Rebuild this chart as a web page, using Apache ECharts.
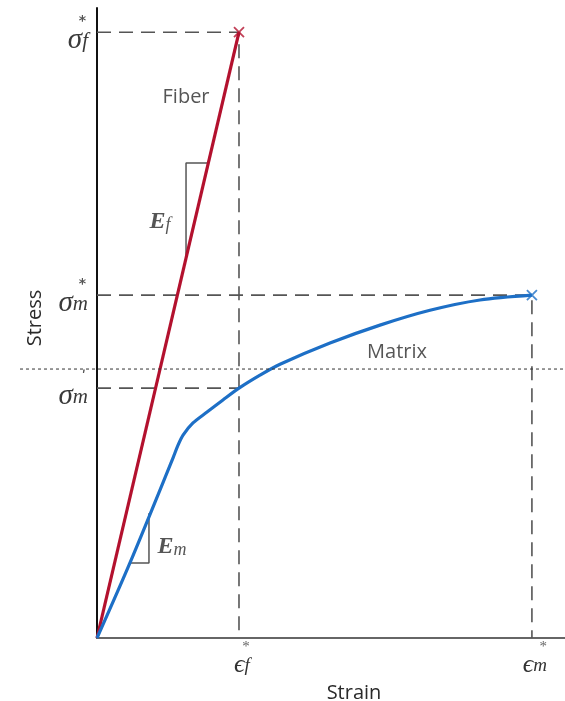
<!DOCTYPE html>
<html><head><meta charset="utf-8">
<script src="https://cdn.jsdelivr.net/npm/echarts@6/dist/echarts.min.js"></script>
<style>html,body{margin:0;padding:0;background:#fff}#c{width:565px;height:701px}</style>
</head><body><div id="c"></div>
<script>
// ---- data (strain in units of eps_f*, stress in units of sigma_f*) ----
const fiberStrain = [0, 1.0];
const fiberStress = [0, 1.0];
const matrixStrain = [0, 0.232, 0.535, 0.570, 0.606, 0.676, 0.775, 0.887, 1.0, 1.148, 1.289, 1.641, 1.993, 2.345, 2.697, 3.063];
const matrixStress = [0, 0.124, 0.297, 0.318, 0.335, 0.355, 0.373, 0.393, 0.4125, 0.434, 0.452, 0.487, 0.5165, 0.541, 0.558, 0.566];
const strainTickValues = [1.0, 3.063];
const strainTickLabels = [['ϵ', 'f', '*'], ['ϵ', 'm', '*']];
const stressTickValues = [1.0, 0.566, 0.4125];
const stressTickLabels = [['σ', 'f', '*'], ['σ', 'm', '*'], ['σ', 'm', 'ʹ']];
const dottedStress = 0.444;
const xMax = 3.296, yMax = 1.04;
// slope triangles
const efTriangle = [[0.627, 0.624], [0.627, 0.784], [0.782, 0.784]];
const emTriangle = [[0.232, 0.124], [0.366, 0.124], [0.366, 0.206]];
// annotation labels
const annotations = [
  { name: 'Fiber', at: [0.627, 0.893], kind: 'word' },
  { name: 'Matrix', at: [2.113, 0.472], kind: 'word' },
  { name: 'Ef', at: [0.444, 0.689], kind: 'mod', sub: 'f' },
  { name: 'Em', at: [0.528, 0.153], kind: 'mod', sub: 'm' }
];

const zip = (a, b) => a.map((v, i) => [v, b[i]]);
const serif = 'Liberation Serif';
const guideStyle = { color: '#555', width: 1.6, type: [14, 8] };
const red = '#b3112e', blue = '#1d6fc6';
const lastX = matrixStrain[matrixStrain.length - 1], lastY = matrixStress[matrixStress.length - 1];

const chart = echarts.init(document.getElementById('c'));
const option = {
  animation: false,
  grid: { left: 97, right: 0, top: 8, bottom: 63, containLabel: false, outerBoundsMode: 'none' },
  xAxis: {
    type: 'value', min: 0, max: xMax,
    name: 'Strain', nameLocation: 'middle', nameGap: 39,
    nameTextStyle: { fontFamily: 'Open Sans', fontSize: 20, color: '#2a2a2a', padding: [0, 0, 0, 46] },
    axisLine: { show: true, lineStyle: { color: '#666', width: 2 } },
    axisTick: { show: false }, splitLine: { show: false },
    axisLabel: {
      customValues: strainTickValues, margin: 5,
      formatter: v => {
        const i = strainTickValues.indexOf(v);
        if (i < 0) return '';
        const t = strainTickLabels[i];
        return '{st|' + t[2] + '}\n{s|' + t[0] + '}{sub|' + t[1] + '}';
      },
      rich: {
        st: { fontFamily: serif, fontSize: 15, color: '#666', lineHeight: 9, align: 'right' },
        s: { fontFamily: serif, fontStyle: 'italic', fontSize: 26, color: '#333', lineHeight: 20, verticalAlign: 'top', padding: [0, 0, 0, 6] },
        sub: { fontFamily: serif, fontStyle: 'italic', fontSize: 19, color: '#333', lineHeight: 18, padding: [8, 0, 0, 0] }
      }
    }
  },
  yAxis: {
    type: 'value', min: 0, max: yMax,
    name: 'Stress', nameLocation: 'middle', nameGap: 52,
    nameTextStyle: { fontFamily: 'Open Sans', fontSize: 20, color: '#2a2a2a', padding: [0, 0, 0, 10] },
    axisLine: { show: true, lineStyle: { color: '#111', width: 2 } },
    axisTick: { show: false }, splitLine: { show: false },
    axisLabel: {
      customValues: stressTickValues, margin: 9,
      formatter: v => {
        const i = stressTickValues.indexOf(v);
        if (i < 0) return '';
        const t = stressTickLabels[i];
        return '{st|' + t[2] + '}\n{s|' + t[0] + '}{sub|' + t[1] + '}';
      },
      rich: {
        st: { fontFamily: 'DejaVu Sans', fontSize: 14, fontWeight: 'bold', color: '#555', lineHeight: 9, align: 'right', padding: [0, 2, 0, 0] },
        s: { fontFamily: serif, fontStyle: 'italic', fontSize: 29, color: '#3a3a3a', lineHeight: 22, verticalAlign: 'top' },
        sub: { fontFamily: serif, fontStyle: 'italic', fontSize: 21, color: '#3a3a3a', lineHeight: 18, padding: [10, 0, 0, 0] }
      }
    }
  },
  series: [
    { type: 'line', data: [[0, fiberStress[1]], [fiberStrain[1], fiberStress[1]], [fiberStrain[1], 0]], symbol: 'none', lineStyle: guideStyle, z: 1 },
    { type: 'line', data: [[0, lastY], [lastX, lastY], [lastX, 0]], symbol: 'none', lineStyle: guideStyle, z: 1 },
    { type: 'line', data: [[0, stressTickValues[2]], [strainTickValues[0], stressTickValues[2]]], symbol: 'none', lineStyle: guideStyle, z: 1 },
    { type: 'line', data: efTriangle, symbol: 'none', lineStyle: { color: '#555', width: 1.5 }, z: 2 },
    { type: 'line', data: emTriangle, symbol: 'none', lineStyle: { color: '#555', width: 1.5 }, z: 2 },
    { type: 'line', name: 'Fiber', data: zip(fiberStrain, fiberStress), symbol: 'none', lineStyle: { color: red, width: 3.2 }, z: 4 },
    { type: 'line', name: 'Matrix', data: zip(matrixStrain, matrixStress), symbol: 'none', smooth: 0.3, lineStyle: { color: blue, width: 3.2 }, z: 4 },
    { type: 'scatter', data: [[fiberStrain[1], fiberStress[1]]], symbol: 'path://M0,0L10,10M10,0L0,10', symbolSize: 10,
      itemStyle: { color: 'none', borderColor: red, borderWidth: 1.8 }, z: 5 },
    { type: 'scatter', data: [[lastX, lastY]], symbol: 'path://M0,0L10,10M10,0L0,10', symbolSize: 10,
      itemStyle: { color: 'none', borderColor: blue, borderWidth: 1.8 }, z: 5 },
    { type: 'scatter', symbolSize: 0, z: 6,
      data: annotations.map(a => ({ value: a.at, name: a.name })),
      label: {
        show: true, position: 'inside',
        formatter: p => {
          const a = annotations[p.dataIndex];
          return a.kind === 'word' ? '{w|' + a.name + '}' : '{e|E}{es|' + a.sub + '}';
        },
        rich: {
          w: { fontFamily: 'Open Sans', fontSize: 20, color: '#2a2a2a' },
          e: { fontFamily: serif, fontStyle: 'italic', fontWeight: 'bold', fontSize: 24, color: '#2a2a2a', lineHeight: 22, verticalAlign: 'top' },
          es: { fontFamily: serif, fontStyle: 'italic', fontSize: 18, color: '#2a2a2a', lineHeight: 16, padding: [9, 0, 0, 0] }
        }
      }
    }
  ]
};
chart.setOption(option);
const dy = chart.convertToPixel({ yAxisIndex: 0 }, dottedStress);
chart.setOption({
  graphic: [{ type: 'line', shape: { x1: 20, y1: dy, x2: 565, y2: dy }, style: { stroke: '#333', lineWidth: 1, lineDash: [3, 3] }, z: 10 }]
});
</script></body></html>
